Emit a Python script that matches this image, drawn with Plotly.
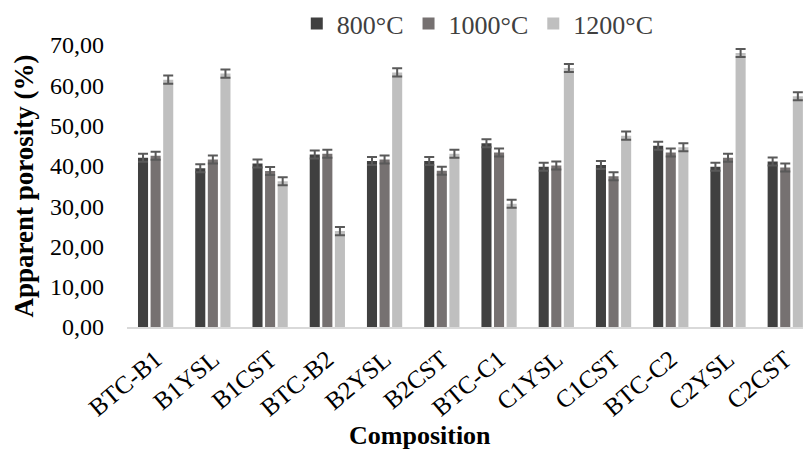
import plotly.graph_objects as go

# Apparent porosity of each composition after firing at three temperatures
compositions = ["BTC-B1", "B1YSL", "B1CST", "BTC-B2", "B2YSL", "B2CST",
                "BTC-C1", "C1YSL", "C1CST", "BTC-C2", "C2YSL", "C2CST"]
porosity_800 = [42.0, 39.4, 40.6, 42.8, 41.2, 41.2, 45.6, 39.8, 40.2, 45.0, 39.8, 41.1]
porosity_1000 = [42.5, 41.6, 38.7, 43.0, 41.6, 38.8, 43.3, 40.1, 37.4, 43.3, 42.0, 39.6]
porosity_1200 = [61.4, 62.9, 36.2, 23.8, 63.2, 43.0, 30.6, 64.3, 47.5, 44.6, 68.0, 57.3]
err_800 = [1.0, 1.0, 1.0, 1.0, 1.0, 1.0, 1.0, 1.0, 1.0, 1.0, 1.0, 1.0]
err_1000 = [1.0, 1.0, 1.0, 1.0, 1.0, 1.0, 1.0, 1.0, 1.0, 1.0, 1.0, 1.0]
err_1200 = [1.0, 1.0, 1.0, 1.0, 1.0, 1.0, 1.0, 1.0, 1.0, 1.0, 1.0, 1.0]

series = [
    ("800°C", porosity_800, err_800, "#404040"),
    ("1000°C", porosity_1000, err_1000, "#767171"),
    ("1200°C", porosity_1200, err_1200, "#bfbfbf"),
]

FONT = "Liberation Serif"

fig = go.Figure()
for name, vals, errs, color in series:
    fig.add_trace(go.Bar(
        x=compositions, y=vals, name=name,
        marker=dict(color=color, line=dict(width=0)),
        error_y=dict(type="data", array=errs, color="#595959",
                     thickness=2, width=5),
    ))

fig.update_layout(
    width=803, height=450,
    margin=dict(l=127, r=0, t=45, b=123, autoexpand=False),
    paper_bgcolor="white", plot_bgcolor="white",
    barmode="group", bargap=0.34, bargroupgap=0.2,
    separators=",.",
    font=dict(family=FONT, color="black", size=24),
    legend=dict(orientation="h", xref="container", x=0.595, xanchor="center",
                yref="container", y=1.0, yanchor="top",
                font=dict(family=FONT, size=26, color="#404040"),
                itemwidth=30, tracegroupgap=0),
    xaxis=dict(
        range=[-0.5, 11.31], showline=True, linecolor="#d9d9d9", linewidth=2,
        showgrid=False, ticks="", tickangle=-40, ticklabelstandoff=6,
        tickfont=dict(family=FONT, size=25, color="black"),
    ),
    yaxis=dict(
        range=[0, 70], dtick=10, tickformat=".2f",
        showline=False, showgrid=False, zeroline=False, ticks="",
        ticklabelstandoff=22,
        tickfont=dict(family=FONT, size=24, color="black"),
        title=dict(text="<b>Apparent porosity (%)</b>", standoff=8,
                   font=dict(family=FONT, size=27, color="black")),
    ),
    annotations=[dict(
        text="<b>Composition</b>", xref="paper", yref="paper",
        x=0.433, y=-0.385, xanchor="center", yanchor="middle", showarrow=False,
        font=dict(family=FONT, size=26, color="black"),
    )],
)

fig.write_html("out.html")
